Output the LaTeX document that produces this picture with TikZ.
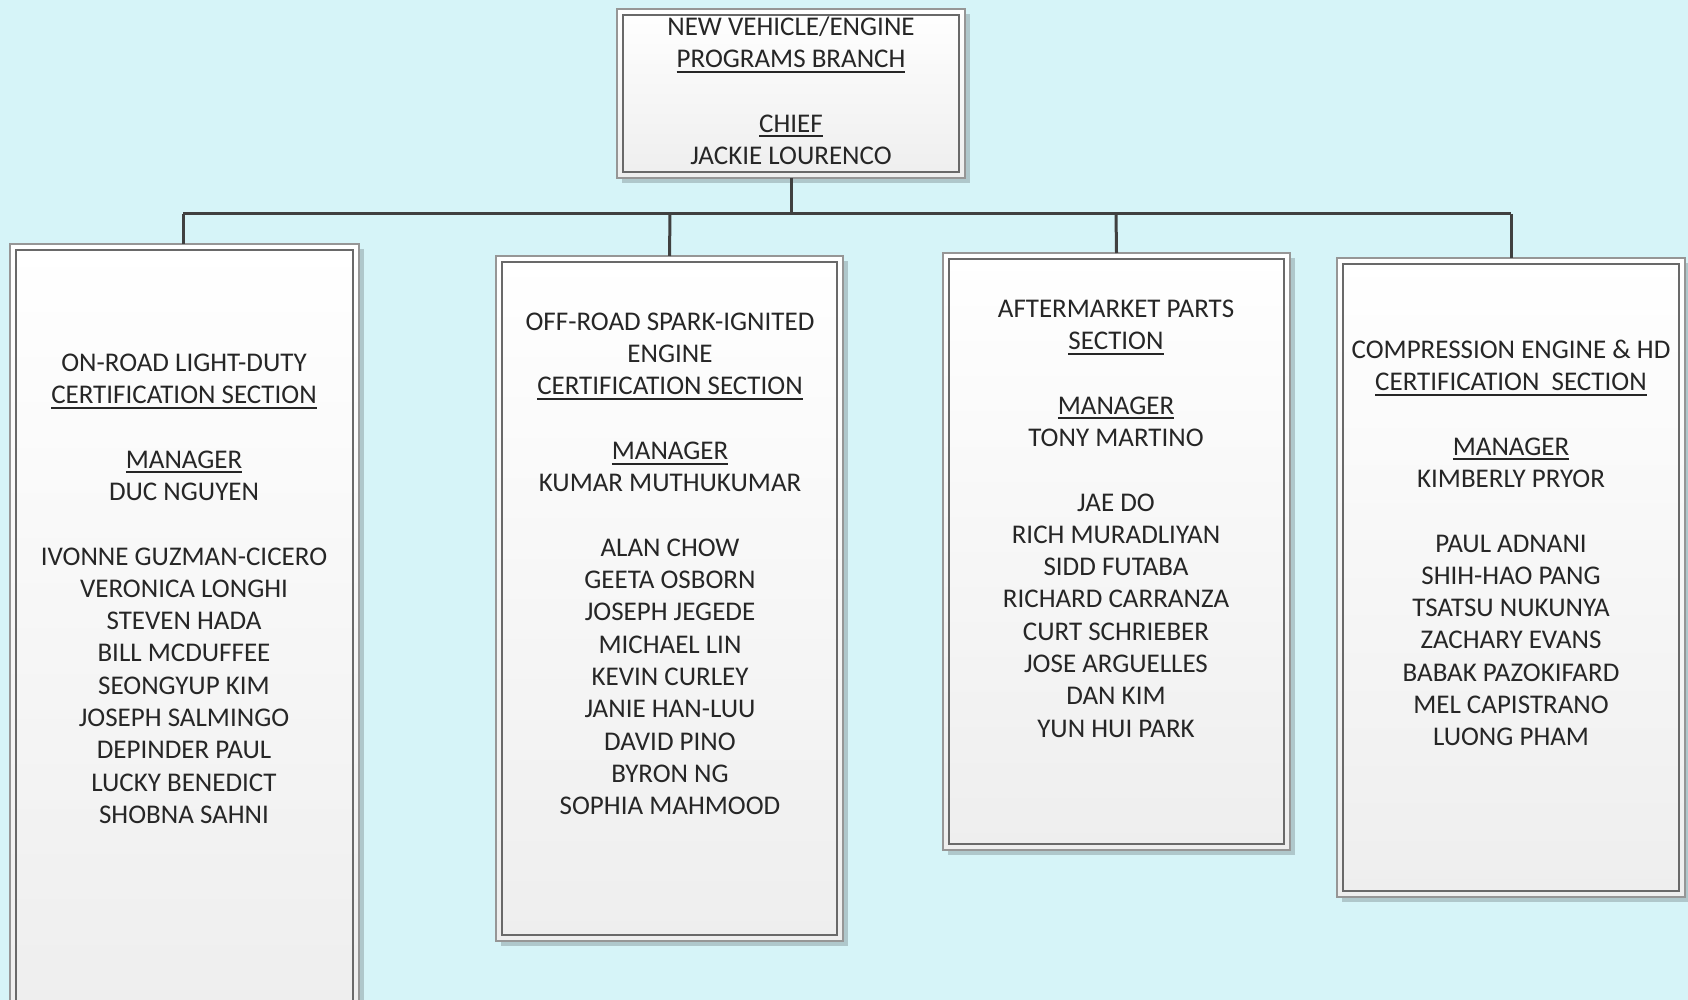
\documentclass[tikz,border=0pt]{standalone}
\usepackage{fontspec}
\setmainfont{Carlito}
\definecolor{bgc}{RGB}{214,244,248}
\definecolor{outc}{RGB}{150,150,150}
\definecolor{inc}{RGB}{105,105,105}
\definecolor{linec}{RGB}{64,64,64}
\definecolor{fillbot}{RGB}{238,238,238}
\newcommand\ulx[1]{\setbox0\hbox{#1}\rlap{\rule[-0.19em]{\wd0}{0.065em}}\box0}
\newcommand\fst{\rule{0pt}{20pt}}
\tikzset{
  outerbox/.style={draw=outc, line width=1.4pt, top color=white, bottom color=fillbot},
  innerbox/.style={draw=inc, line width=1.8pt},
  shadowbox/.style={fill=black, opacity=0.18},
  conn/.style={draw=linec, line width=3pt},
  txt/.style={align=center, anchor=north, inner sep=0pt, font=\fontsize{27}{32.3}\selectfont, text=black!85},
}
\newcommand\orgbox[5]{%
  \fill[shadowbox] (#2+5,#3+5) rectangle (#4+5,#5+5);
  \path[outerbox] (#2,#3) rectangle (#4,#5);
  \draw[innerbox] (#2+6,#3+6) rectangle (#4-6,#5-6);
  \coordinate (#1) at ({(#2+#4)/2},#3);
  \coordinate (#1-b) at ({(#2+#4)/2},#5);
}
\begin{document}
\begin{tikzpicture}[x=1pt,y=-1pt]
\useasboundingbox (0,0) rectangle (1688,1000);
\clip (0,0) rectangle (1688,1000);
\fill[bgc] (0,0) rectangle (1688,1000);

\coordinate (bar) at (791,214);
\coordinate (b1) at (183,214);
\coordinate (b4) at (1511,214);

\orgbox{top}{617}{9}{965}{178}
\orgbox{s1}{10}{244}{359}{1012}
\orgbox{s2}{496}{256}{843}{941}
\orgbox{s3}{943}{253}{1290}{850}
\orgbox{s4}{1337}{258}{1685}{897}

\draw[conn] (top-b) -- (bar);
\draw[conn] (b1) -- (b4);
\draw[conn] (b1) -- (183,244);
\draw[conn] (670,214) -- (s2);
\draw[conn] (1116,214) -- (s3);
\draw[conn] (b4) -- (1511,258);

\node[txt] (ttop) at (791,15) {\fst NEW VEHICLE/ENGINE\\ \ulx{PROGRAMS BRANCH}\\[32.3pt] \ulx{CHIEF}\\ JACKIE LOURENCO};

\node[txt] (t1) at (184,351) {\fst ON-ROAD LIGHT-DUTY\\ \ulx{CERTIFICATION SECTION}\\[32.3pt] \ulx{MANAGER}\\ DUC NGUYEN\\[32.3pt]
IVONNE GUZMAN-CICERO\\ VERONICA LONGHI\\ STEVEN HADA\\ BILL MCDUFFEE\\ SEONGYUP KIM\\ JOSEPH SALMINGO\\ DEPINDER PAUL\\ LUCKY BENEDICT\\ SHOBNA SAHNI};

\node[txt] (t2) at (670,310) {\fst OFF-ROAD SPARK-IGNITED\\ ENGINE\\ \ulx{CERTIFICATION SECTION}\\[32.3pt] \ulx{MANAGER}\\ KUMAR MUTHUKUMAR\\[32.3pt]
ALAN CHOW\\ GEETA OSBORN\\ JOSEPH JEGEDE\\ MICHAEL LIN\\ KEVIN CURLEY\\ JANIE HAN-LUU\\ DAVID PINO\\ BYRON NG\\ SOPHIA MAHMOOD};

\node[txt] (t3) at (1116,297) {\fst AFTERMARKET PARTS\\ \ulx{SECTION}\\[32.3pt] \ulx{MANAGER}\\ TONY MARTINO\\[32.3pt]
JAE DO\\ RICH MURADLIYAN\\ SIDD FUTABA\\ RICHARD CARRANZA\\ CURT SCHRIEBER\\ JOSE ARGUELLES\\ DAN KIM\\ YUN HUI PARK};

\node[txt] (t4) at (1511,338) {\fst COMPRESSION ENGINE \& HD\\ \ulx{CERTIFICATION\ \ SECTION}\\[32.3pt] \ulx{MANAGER}\\ KIMBERLY PRYOR\\[32.3pt]
PAUL ADNANI\\ SHIH-HAO PANG\\ TSATSU NUKUNYA\\ ZACHARY EVANS\\ BABAK PAZOKIFARD\\ MEL CAPISTRANO\\ LUONG PHAM};
\end{tikzpicture}
\end{document}
